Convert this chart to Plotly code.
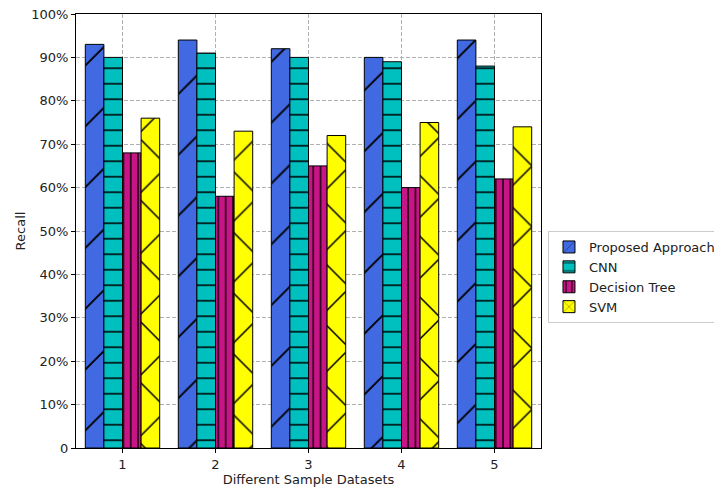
import plotly.graph_objects as go

# Recall (%) of each method on the five sample datasets
datasets = [1, 2, 3, 4, 5]
proposed = [93, 94, 92, 90, 94]
cnn = [90, 91, 90, 89, 88]
decision_tree = [68, 58, 65, 60, 62]
svm = [76, 73, 72, 75, 74]

y_ticks = [0, 10, 20, 30, 40, 50, 60, 70, 80, 90, 100]
y_tick_text = ["0", "10%", "20%", "30%", "40%", "50%", "60%", "70%", "80%", "90%", "100%"]

# name, values, fill colour, hatch shape, hatch tile size, hatch solidity
series = [
    ("Proposed Approach", proposed, "#4169E1", "/", 43, 0.045),
    ("CNN", cnn, "#00BFBF", "-", 15.5, 0.1),
    ("Decision Tree", decision_tree, "#C71585", "|", 7.3, 0.18),
    ("SVM", svm, "#FFFF00", "x", 43, 0.07),
]

bar_w = 0.2
offsets = [-1.5 * bar_w, -0.5 * bar_w, 0.5 * bar_w, 1.5 * bar_w]

fig = go.Figure()
for (name, vals, color, shape, size, sol), off in zip(series, offsets):
    fig.add_trace(go.Bar(
        name=name,
        x=[d + off for d in datasets],
        y=vals,
        width=bar_w,
        marker=dict(
            color=color,
            line=dict(color="black", width=1),
            pattern=dict(shape=shape, fgcolor="black", bgcolor=color,
                         size=size, solidity=sol, fillmode="replace"),
        ),
    ))

font = "DejaVu Sans, Arial, sans-serif"
fig.update_layout(
    width=714, height=492,
    margin=dict(l=76, r=173, t=14, b=44, autoexpand=False),
    plot_bgcolor="white", paper_bgcolor="white",
    barmode="overlay",
    font=dict(family=font, size=13, color="#222"),
    showlegend=True,
    legend=dict(
        x=1.015, xanchor="left", y=0.394, yanchor="middle",
        bordercolor="#cccccc", borderwidth=1, bgcolor="white",
        font=dict(size=13, family=font, color="#222"),
        tracegroupgap=0, itemwidth=30,
    ),
)
fig.update_xaxes(
    range=[0.5, 5.5], tickvals=datasets, ticktext=[str(d) for d in datasets],
    showline=True, linecolor="black", linewidth=1, mirror=True,
    ticks="outside", ticklen=4, tickcolor="black",
    showgrid=True, gridcolor="#b0b0b0", griddash="4px,2px", gridwidth=1,
    zeroline=False, automargin=False,
    title=dict(text="Different Sample Datasets", font=dict(size=13, family=font), standoff=4),
    tickfont=dict(size=13, family=font),
)
fig.update_yaxes(
    range=[0, 100], tickvals=y_ticks, ticktext=y_tick_text,
    showline=True, linecolor="black", linewidth=1, mirror=True,
    ticks="outside", ticklen=4, tickcolor="black",
    showgrid=True, gridcolor="#b0b0b0", griddash="4px,2px", gridwidth=1,
    zeroline=False, automargin=False,
    title=dict(text="Recall", font=dict(size=13, family=font), standoff=2),
    tickfont=dict(size=13, family=font),
)

fig.write_html("out.html")
